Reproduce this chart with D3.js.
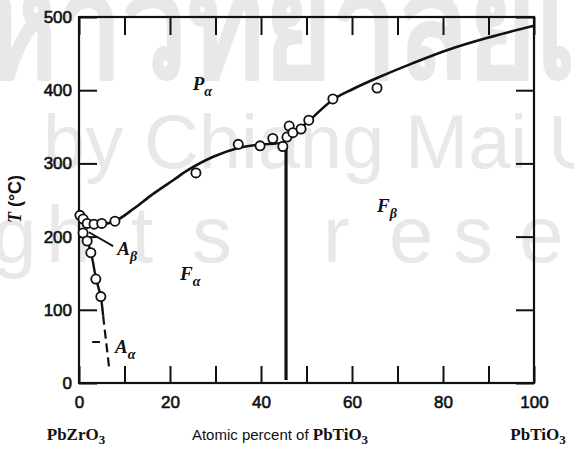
<!DOCTYPE html>
<html>
<head>
<meta charset="utf-8">
<style>
  body { margin: 0; background: #fff; }
  svg { display: block; }
  .wm { fill: #e8e8e8; font-family: "Liberation Sans", sans-serif; }
  .tick text { font-family: "Liberation Sans", Arial, sans-serif; font-size: 17px; fill: #111; }
  .phase { font-family: "Liberation Serif", serif; font-style: italic; font-weight: bold; font-size: 19px; fill: #111; }
</style>
</head>
<body>
<svg id="chart" width="574" height="450"></svg>
<script src="https://d3js.org/d3.v7.min.js"></script>
<script>
// upper transition line (P_alpha boundary)
var curveX = [0.2, 1.8, 3.4, 5, 7.9, 12, 16, 20.7, 24, 29.5, 35, 40, 44.8, 48, 50.5, 55.8, 60, 66, 73, 81, 90, 100];
var curveT = [229, 219, 216, 217, 221, 238, 257, 277, 291, 309, 321, 326, 329, 345, 358, 387, 401, 418, 436, 455, 472, 488];

// A_beta / A_alpha branch near PbZrO3
var branchX = [0.4, 1.5, 2.6, 3.7, 4.8, 5.3];
var branchT = [211, 198, 179, 144, 117, 92];
var dashX = [5.3, 6.6];
var dashT = [92, 22];

// F_alpha / F_beta boundary
var mpbX = [45.5, 45.5];
var mpbT = [327, 4];

// measured points (open circles)
var ptX = [0.2, 0.9, 1.8, 3.3, 5, 7.9, 0.9, 1.8, 2.6, 3.7, 4.8, 25.7, 35, 39.8, 42.6, 44.8, 45.7, 46.2, 47, 48.8, 50.5, 55.8, 65.5];
var ptT = [229, 224, 218, 217, 218, 221, 205, 194, 178, 142, 118, 287, 326, 324, 334, 323, 336, 351, 342, 347, 359, 388, 403];

var xTicks = [0, 10, 20, 30, 40, 50, 60, 70, 80, 90, 100];
var xLabels = [0, 20, 40, 60, 80, 100];
var yTicks = [0, 100, 200, 300, 400, 500];

var svg = d3.select("#chart");
var x = d3.scaleLinear().domain([0, 100]).range([79, 534]);
var y = d3.scaleLinear().domain([0, 500]).range([383, 17]);

// scanned watermark
var wm = svg.append("g");
wm.append("text").attr("class", "wm")
  .attr("transform", "translate(-95,77) scale(0.92,1.15)")
  .style("font-size", "126px")
  .style("stroke", "#e8e8e8").style("stroke-width", 5).style("stroke-linejoin", "round")
  .style("font-family", "'Noto Sans', 'DejaVu Sans', sans-serif")
  .text("มหาวิทยาลัยเชียงใหม่");
wm.append("text").attr("class", "wm").attr("x", 43).attr("y", 168)
  .style("font-size", "76px").attr("textLength", 560).attr("lengthAdjust", "spacing")
  .text("by Chiang Mai U");
wm.append("text").attr("class", "wm").attr("y", 262).style("font-size", "80px")
  .selectAll("tspan").data(["g", "h", "t", "s", "r", "e", "s", "e"]).enter().append("tspan")
  .attr("x", function(d, i) { return [-8, 46, 131, 192, 323, 389, 453, 519][i]; })
  .text(function(d) { return d; });

// frame
svg.append("rect").attr("x", x(0)).attr("y", y(500))
  .attr("width", x(100) - x(0)).attr("height", y(0) - y(500))
  .attr("fill", "none").attr("stroke", "#111").attr("stroke-width", 2.2);

// inward ticks
svg.append("g").attr("transform", "translate(0," + y(0) + ")")
  .call(d3.axisBottom(x).tickValues(xTicks).tickSize(-17).tickFormat(""));
svg.append("g").attr("transform", "translate(0," + y(500) + ")")
  .call(d3.axisTop(x).tickValues(xTicks).tickSize(-18).tickFormat(""));
svg.append("g").attr("transform", "translate(" + x(0) + ",0)")
  .call(d3.axisLeft(y).tickValues(yTicks).tickSize(-18).tickPadding(7));
svg.append("g").attr("transform", "translate(" + x(100) + ",0)")
  .call(d3.axisRight(y).tickValues(yTicks).tickSize(-18).tickFormat(""));
svg.append("g").attr("transform", "translate(0," + y(0) + ")")
  .call(d3.axisBottom(x).tickValues(xLabels).tickSize(0).tickPadding(13));

svg.selectAll(".domain").remove();
svg.selectAll(".tick line").attr("stroke", "#111").attr("stroke-width", 2);
svg.selectAll(".tick text").style("stroke", "#111").style("stroke-width", 0.6);

var line = d3.line().x(function(d) { return x(d[0]); }).y(function(d) { return y(d[1]); });

svg.append("path").datum(d3.zip(curveX, curveT))
  .attr("d", line.curve(d3.curveCatmullRom.alpha(0.5)))
  .attr("fill", "none").attr("stroke", "#111").attr("stroke-width", 2.6);
svg.append("path").datum(d3.zip(branchX, branchT))
  .attr("d", line.curve(d3.curveCatmullRom.alpha(0.5)))
  .attr("fill", "none").attr("stroke", "#111").attr("stroke-width", 2.4);
svg.append("path").datum(d3.zip(dashX, dashT))
  .attr("d", line.curve(d3.curveLinear))
  .attr("fill", "none").attr("stroke", "#111").attr("stroke-width", 2.2)
  .attr("stroke-dasharray", "9,5");
svg.append("path").datum(d3.zip(mpbX, mpbT))
  .attr("d", line)
  .attr("fill", "none").attr("stroke", "#111").attr("stroke-width", 3.2);

// leader for A_beta and tick for A_alpha
svg.append("line").attr("x1", x(2.2)).attr("y1", y(206)).attr("x2", x(7.5)).attr("y2", y(187))
  .attr("stroke", "#111").attr("stroke-width", 1.8);
svg.append("line").attr("x1", x(2.9)).attr("y1", y(56)).attr("x2", x(4.6)).attr("y2", y(56))
  .attr("stroke", "#111").attr("stroke-width", 2);

svg.selectAll("circle.pt").data(d3.zip(ptX, ptT)).enter().append("circle")
  .attr("class", "pt")
  .attr("cx", function(d) { return x(d[0]); })
  .attr("cy", function(d) { return y(d[1]); })
  .attr("r", 4.6)
  .attr("fill", "#fff").attr("stroke", "#111").attr("stroke-width", 1.8);

// phase labels
function phase(px, pt, main, sub) {
  var t = svg.append("text").attr("class", "phase").attr("x", x(px)).attr("y", y(pt));
  t.append("tspan").text(main);
  t.append("tspan").attr("dy", 6).style("font-size", "14px").text(sub);
}
phase(25, 400, "P", "α");
phase(22.2, 141, "F", "α");
phase(65.5, 234, "F", "β");
phase(8.4, 175, "A", "β");
phase(7.9, 41, "A", "α");

// axis titles
var yt = svg.append("text").attr("transform", "translate(21,199) rotate(-90)")
  .attr("text-anchor", "middle").style("font-size", "18px").style("fill", "#111");
yt.append("tspan").style("font-family", "'Liberation Serif', serif").style("font-style", "italic").style("font-weight", "bold").text("T");
yt.append("tspan").style("font-family", "'Liberation Sans', sans-serif").style("font-weight", "bold").text(" (°C)");

function formula(cx, parts) {
  var t = svg.append("text").attr("x", cx).attr("y", 440).attr("text-anchor", "middle")
    .style("font-family", "'Liberation Serif', serif").style("font-weight", "bold")
    .style("font-size", "17px").style("fill", "#111");
  parts.forEach(function(p) {
    var s = t.append("tspan").text(p[0]);
    if (p[1]) s.attr("dy", p[1]).style("font-size", "13px");
    if (p[2]) s.style("font-family", "'Liberation Sans', sans-serif").style("font-weight", "normal").style("font-size", "15px");
  });
}
formula(76, [["PbZrO"], ["3", 4]]);
formula(280, [["Atomic percent of ", 0, true], ["PbTiO"], ["3", 4]]);
formula(538, [["PbTiO"], ["3", 4]]);
</script>
</body>
</html>
